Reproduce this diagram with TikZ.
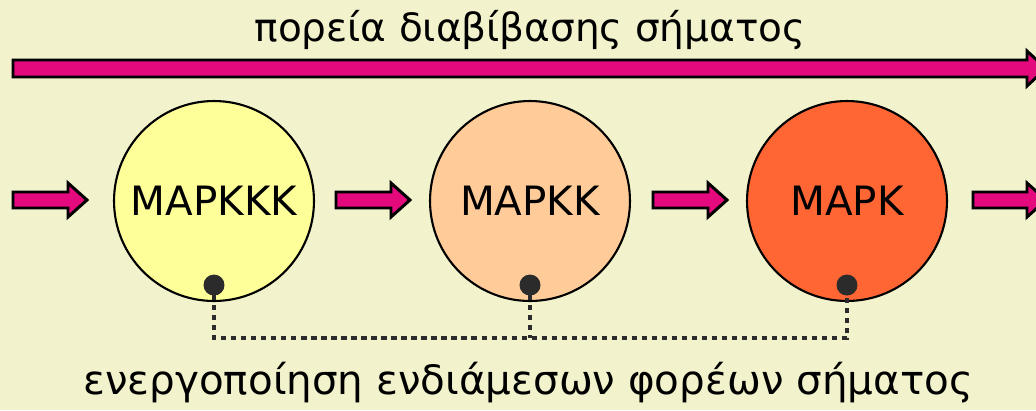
\documentclass[tikz,border=0pt]{standalone}
\usepackage{fontspec}
\setmainfont{DejaVu Sans}
\definecolor{bg}{RGB}{242,242,204}
\definecolor{signal}{RGB}{228,9,125}
\definecolor{kkk}{RGB}{255,255,153}
\definecolor{kk}{RGB}{255,204,153}
\definecolor{k}{RGB}{255,102,51}
\definecolor{dotgray}{RGB}{43,43,43}
\tikzset{
  sigarrow/.style={fill=signal,draw=black,line width=1.7pt,line join=miter},
  stage/.style={circle,draw=black,line width=1.2pt,minimum size=4cm,inner sep=0pt,font=\fontsize{23}{26}\selectfont},
  anchor dot/.style={circle,fill=dotgray,minimum size=0.42cm,inner sep=0pt},
  link/.style={dotgray,line width=2.5pt,dash pattern=on 3pt off 2.7pt},
  caption/.style={font=\fontsize{23}{26}\selectfont}
}
% block arrow: x start, y centre, head start, tip, shaft half width, head half width
\newcommand{\blockarrow}[6]{%
  \draw[sigarrow] (#1,#2-#5) -- (#3,#2-#5) -- (#3,#2-#6) -- (#4,#2)
    -- (#3,#2+#6) -- (#3,#2+#5) -- (#1,#2+#5) -- cycle;}

\begin{document}
\begin{tikzpicture}[x=0.02cm,y=-0.02cm]
\fill[bg] (0,0) rectangle (1036,410);
\clip (0,0) rectangle (1036,410);

\node[caption,font=\fontsize{22.2}{26}\selectfont] (path) at (530,30) {πορεία διαβίβασης σήματος};
\blockarrow{13}{68.5}{1027}{1046}{8.5}{17.5}

% the three kinases
\node[stage,fill=kkk] (mapkkk) at (214,201) {MAPKKK};
\node[stage,fill=kk] (mapkk) at (530,201) {MAPKK};
\node[stage,fill=k] (mapk) at (847,201) {MAPK};

\blockarrow{13}{200}{68}{87}{8}{17}
\blockarrow{336}{200}{391}{410}{8}{17}
\blockarrow{653}{200}{708}{727}{8}{17}
\blockarrow{973}{200}{1027}{1046}{8}{17}

\node[anchor dot] (d1) at ([yshift=0.34cm]mapkkk.south) {};
\node[anchor dot] (d2) at ([yshift=0.34cm]mapkk.south) {};
\node[anchor dot] (d3) at ([yshift=0.34cm]mapk.south) {};
\coordinate (bus) at (530,338);
\draw[link] (d1.center) -- (d1.center |- bus) -| (d3.center);
\draw[link] (d2.center) -- (bus);

\node[caption] (relay) at (528,383) {ενεργοποίηση ενδιάμεσων φορέων σήματος};
\end{tikzpicture}
\end{document}
